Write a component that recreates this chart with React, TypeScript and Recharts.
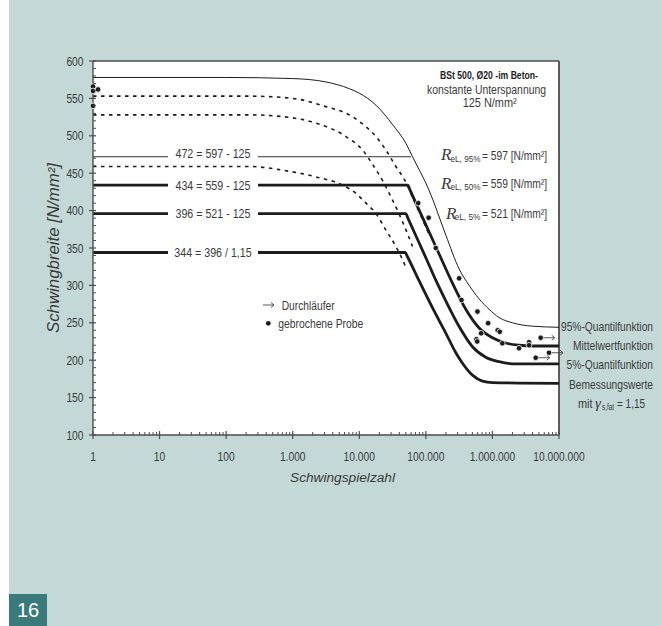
import React from 'react';
import { ComposedChart, Line, Scatter, XAxis, YAxis, CartesianGrid, ReferenceLine } from 'recharts';

const W = 662;
const H = 626;
const SANS = "'Liberation Sans', Arial, sans-serif";
const SERIF = "'Liberation Serif', 'Times New Roman', serif";
const TXT = '#3a3a3a';
const INK = '#1c1c1c';
const AXIS = '#4d4d4d';
const TEAL = '#c4d8d8';

// ---- tick labels ----
const xMajorTicks = [1, 10, 100, 1000, 10000, 100000, 1000000, 10000000];
const xTickLabels = ['1', '10', '100', '1.000', '10.000', '100.000', '1.000.000', '10.000.000'];
const yMajorTicks = [100, 150, 200, 250, 300, 350, 400, 450, 500, 550, 600];

const xMinorTicks: number[] = [];
for (let k = 0; k < 7; k++) for (let m = 2; m <= 9; m++) xMinorTicks.push(m * Math.pow(10, k));
const xAllTicks = [...xMajorTicks, ...xMinorTicks].sort((a, b) => a - b);
const yAllTicks: number[] = [];
for (let v = 100; v <= 600; v += 10) yAllTicks.push(v);

// ---- curves (n = Schwingspielzahl, v = Schwingbreite) ----
const q95Curve = [
  { n: 1, v: 578 }, { n: 100, v: 578 }, { n: 1000, v: 576.5 }, { n: 3160, v: 572 },
  { n: 7080, v: 563 }, { n: 10000, v: 557 }, { n: 17800, v: 541 }, { n: 31600, v: 515 },
  { n: 50100, v: 490 }, { n: 63100, v: 472 }, { n: 112000, v: 427 }, { n: 200000, v: 367 },
  { n: 316000, v: 322 }, { n: 447000, v: 300 }, { n: 631000, v: 282 }, { n: 891000, v: 268 },
  { n: 1260000, v: 257 }, { n: 2000000, v: 250 }, { n: 3980000, v: 245.5 }, { n: 10000000, v: 244 },
];
const meanCurve = [
  { n: 1, v: 434 }, { n: 53700, v: 434 }, { n: 57500, v: 428 }, { n: 100000, v: 381 },
  { n: 158000, v: 342 }, { n: 251000, v: 303 }, { n: 398000, v: 268 }, { n: 631000, v: 243 },
  { n: 1000000, v: 230 }, { n: 1580000, v: 223 }, { n: 2510000, v: 220 }, { n: 3980000, v: 219 },
  { n: 10000000, v: 219 },
];
const q5Curve = [
  { n: 1, v: 396 }, { n: 50100, v: 396 }, { n: 53700, v: 390 }, { n: 100000, v: 337 },
  { n: 141000, v: 307 }, { n: 200000, v: 279 }, { n: 316000, v: 245 }, { n: 501000, v: 218 },
  { n: 794000, v: 204 }, { n: 1260000, v: 198 }, { n: 2240000, v: 195 }, { n: 10000000, v: 195 },
];
const designCurve = [
  { n: 1, v: 344 }, { n: 49000, v: 344 }, { n: 52500, v: 339 }, { n: 79400, v: 306 },
  { n: 126000, v: 270 }, { n: 200000, v: 236 }, { n: 282000, v: 210 }, { n: 355000, v: 196 },
  { n: 501000, v: 180 }, { n: 708000, v: 172 }, { n: 1000000, v: 170 }, { n: 10000000, v: 169 },
];
const line472 = [{ n: 1, v: 472 }, { n: 60000, v: 472 }];

const dottedA = [
  { n: 1, v: 553 }, { n: 224, v: 553 }, { n: 1000, v: 550 }, { n: 3160, v: 539 },
  { n: 7080, v: 528 }, { n: 12600, v: 512 }, { n: 17800, v: 499 }, { n: 25100, v: 481 },
  { n: 35500, v: 459 }, { n: 47900, v: 441 }, { n: 63100, v: 418 }, { n: 89100, v: 388 },
  { n: 112000, v: 368 },
];
const dottedB = [
  { n: 1, v: 528 }, { n: 224, v: 528 }, { n: 708, v: 525.6 }, { n: 2240, v: 517 },
  { n: 6310, v: 499 }, { n: 11200, v: 481 }, { n: 15800, v: 462 }, { n: 22400, v: 440 },
  { n: 31600, v: 414 }, { n: 44700, v: 385 }, { n: 63100, v: 352 },
];
const dottedC = [
  { n: 1, v: 459 }, { n: 224, v: 459 }, { n: 708, v: 454 }, { n: 2240, v: 445 },
  { n: 5620, v: 434 }, { n: 8910, v: 423 }, { n: 12600, v: 410 }, { n: 17800, v: 396 },
  { n: 25100, v: 374 }, { n: 35500, v: 352 }, { n: 42700, v: 338 }, { n: 50100, v: 324 },
];

// ---- test results ----
const brokenSamples = [
  { n: 1, v: 566 }, { n: 1, v: 560 }, { n: 1.19, v: 562 }, { n: 1, v: 540 },
  { n: 76700, v: 410 }, { n: 110000, v: 390.5 }, { n: 141000, v: 350 },
  { n: 316000, v: 309.5 }, { n: 343000, v: 280.5 }, { n: 596000, v: 265 },
  { n: 861000, v: 249.5 }, { n: 1200000, v: 240 }, { n: 1290000, v: 238 },
  { n: 676000, v: 236 }, { n: 575000, v: 228 }, { n: 590000, v: 225 },
  { n: 1410000, v: 222.6 }, { n: 2510000, v: 216 }, { n: 3550000, v: 224 }, { n: 3550000, v: 220 },
];
const runOuts = [
  { n: 5310000, v: 230 }, { n: 4470000, v: 203.3 }, { n: 7080000, v: 210 },
];

// ---- Arial/Liberation advance widths (per 1000 em), used to emulate a narrow face ----
const CW: Record<string, number> = {
  ' ': 278, '.': 278, ',': 278, '-': 333, '=': 584, '/': 278, '%': 889, '[': 278, ']': 278, '²': 333, 'Ø': 778,
  '0': 556, '1': 556, '2': 556, '3': 556, '4': 556, '5': 556, '6': 556, '7': 556, '8': 556, '9': 556,
  a: 556, b: 556, c: 500, d: 556, e: 556, f: 278, g: 556, h: 556, i: 222, j: 222, k: 500, l: 222, m: 833,
  n: 556, o: 556, p: 556, q: 556, r: 333, s: 500, t: 278, u: 556, v: 500, w: 722, x: 500, y: 500, z: 500, 'ä': 556,
  A: 667, B: 667, C: 722, D: 722, E: 667, F: 611, G: 778, H: 722, I: 278, J: 500, K: 667, L: 556, M: 833,
  N: 722, O: 778, P: 667, Q: 778, R: 722, S: 667, T: 611, U: 722, V: 667, W: 944, X: 667, Y: 667, Z: 611,
};
const textWidth = (s: string, size: number) => {
  let w = 0;
  for (const ch of s) w += CW[ch] ?? 556;
  return (w / 1000) * size;
};

type NTProps = {
  x: number; y: number; size: number; text: string; anchor?: 'start' | 'middle' | 'end';
  bold?: boolean; italic?: boolean; fill?: string; factor?: number; len?: number;
};
const NText = ({ x, y, size, text, anchor = 'start', bold, italic, fill = TXT, factor = 0.82, len }: NTProps) => (
  <text
    x={x} y={y} fontFamily={SANS} fontSize={size} textAnchor={anchor}
    fontWeight={bold ? 'bold' : 'normal'} fontStyle={italic ? 'italic' : 'normal'} fill={fill}
    textLength={len ?? textWidth(text, size) * factor * (bold ? 1.06 : 1)} lengthAdjust="spacingAndGlyphs"
  >
    {text}
  </text>
);

const XTick = (props: any) => {
  const { x, y, payload } = props;
  const idx = xMajorTicks.indexOf(payload.value);
  if (idx >= 0) {
    return (
      <g>
        <line x1={x} x2={x} y1={y - 4} y2={y + 4} stroke={AXIS} strokeWidth={1.2} />
        <NText x={x} y={y + 26} size={12.5} anchor="middle" text={xTickLabels[idx]} />
      </g>
    );
  }
  return <line x1={x} x2={x} y1={y} y2={y - 3} stroke={AXIS} strokeWidth={1} />;
};

const YTick = (props: any) => {
  const { x, y, payload } = props;
  const v = payload.value;
  if (yMajorTicks.includes(v)) {
    return (
      <g>
        <line x1={x - 4} x2={x + 3} y1={y} y2={y} stroke={AXIS} strokeWidth={1.2} />
        <NText x={x - 9.5} y={y + 4.5} size={12.5} anchor="end" text={String(v)} />
      </g>
    );
  }
  return <line x1={x} x2={x + 3} y1={y} y2={y} stroke={AXIS} strokeWidth={1} />;
};

const BrokenDot = (props: any) => {
  const { cx, cy } = props;
  return <circle cx={cx} cy={cy} r={2.8} fill={INK} stroke="#fff" strokeWidth={0.8} />;
};
const RunOutDot = (props: any) => {
  const { cx, cy } = props;
  return (
    <g>
      <circle cx={cx} cy={cy} r={2.8} fill={INK} stroke="#fff" strokeWidth={0.8} />
      <line x1={cx + 3} x2={cx + 14} y1={cy} y2={cy} stroke="#444" strokeWidth={0.9} />
      <path d={`M${cx + 11},${cy - 2.5} L${cx + 14},${cy} L${cx + 11},${cy + 2.5}`} fill="none" stroke="#444" strokeWidth={0.9} />
    </g>
  );
};

const LineLabel = ({ x, y, text }: { x: number; y: number; text: string }) => (
  <g>
    <rect x={x - 45} y={y - 7} width={90} height={14} fill="#fff" />
    <NText x={x} y={y + 4.5} size={13} anchor="middle" text={text} />
  </g>
);

const RLabel = ({ y, sub, val, rx, subLen }: { y: number; sub: string; val: string; rx: number; subLen: number }) => (
  <g>
    <text x={rx} y={y + 5} fontFamily={SERIF} fontStyle="italic" fontSize={17} fill={TXT}>R</text>
    <NText x={480.5 - subLen} y={y + 6.5} size={9} text={sub} len={subLen} />
    <NText x={547} y={y + 4.7} size={13} anchor="end" text={`= ${val} [N/mm²]`} len={65} />
  </g>
);

export default function App() {
  const common = { isAnimationActive: false, dot: false, activeDot: false, legendType: 'none' as const };
  return (
    <div style={{ position: 'absolute', left: 0, top: 0, width: W, height: H, background: '#fff', overflow: 'hidden' }}>
      <div style={{ position: 'absolute', left: 9, top: 0, width: W - 9, height: H, background: TEAL }} />
      <div style={{ position: 'absolute', left: 0, top: 0 }}>
        <ComposedChart width={W} height={H} margin={{ top: 61, right: 103, bottom: 161, left: 53 }}>
          <CartesianGrid fill="#fff" horizontal={false} vertical={false} stroke="none" />
          <XAxis
            type="number" dataKey="n" scale="log" domain={[1, 10000000]} ticks={xAllTicks} interval={0}
            tick={XTick} tickLine={false} tickSize={0} tickMargin={0} height={30}
            axisLine={{ stroke: AXIS, strokeWidth: 1.6 }}
          />
          <YAxis
            type="number" domain={[100, 600]} ticks={yAllTicks} interval={0}
            tick={YTick} tickLine={false} tickSize={0} tickMargin={0} width={40}
            axisLine={{ stroke: AXIS, strokeWidth: 1.4 }}
          />
          <ReferenceLine y={600} stroke={AXIS} strokeWidth={1.4} />
          <ReferenceLine x={10000000} stroke={AXIS} strokeWidth={1.8} />

          <Line {...common} data={dottedA} dataKey="v" type="monotone" stroke={INK} strokeWidth={1.6} strokeDasharray="3.5 4.5" />
          <Line {...common} data={dottedB} dataKey="v" type="monotone" stroke={INK} strokeWidth={1.6} strokeDasharray="3.5 4.5" />
          <Line {...common} data={dottedC} dataKey="v" type="monotone" stroke={INK} strokeWidth={1.6} strokeDasharray="3.5 4.5" />

          <Line {...common} data={line472} dataKey="v" type="linear" stroke="#333" strokeWidth={1} />
          <Line {...common} data={q95Curve} dataKey="v" type="monotone" stroke={INK} strokeWidth={1} />
          <Line {...common} data={meanCurve} dataKey="v" type="monotone" stroke={INK} strokeWidth={2.8} />
          <Line {...common} data={q5Curve} dataKey="v" type="monotone" stroke={INK} strokeWidth={2.8} />
          <Line {...common} data={designCurve} dataKey="v" type="monotone" stroke={INK} strokeWidth={2.8} />

          <Scatter data={brokenSamples} dataKey="v" shape={BrokenDot} isAnimationActive={false} legendType="none" />
          <Scatter data={runOuts} dataKey="v" shape={RunOutDot} isAnimationActive={false} legendType="none" />
        </ComposedChart>
      </div>

      <svg width={W} height={H} style={{ position: 'absolute', left: 0, top: 0, pointerEvents: 'none' }}>
        {/* line labels */}
        <LineLabel x={213} y={153} text="472 = 597 - 125" />
        <LineLabel x={213} y={185} text="434 = 559 - 125" />
        <LineLabel x={213} y={213.5} text="396 = 521 - 125" />
        <LineLabel x={213} y={252} text="344 = 396 / 1,15" />

        {/* header */}
        <NText x={489} y={78.6} size={10.5} bold anchor="middle" fill="#222" text="BSt 500, Ø20  -im Beton-" len={98} />
        <NText x={486.5} y={94} size={12.6} anchor="middle" text="konstante Unterspannung" len={119} />
        <NText x={489.7} y={106.8} size={12.6} anchor="middle" text="125 N/mm²" len={54} />

        <RLabel y={155} sub="eL, 95%" val="597" rx={441} subLen={30} />
        <RLabel y={183.5} sub="eL, 50%" val="559" rx={441} subLen={30} />
        <RLabel y={213.5} sub="eL, 5%" val="521" rx={446} subLen={26} />

        {/* legend */}
        <line x1={263} x2={274} y1={305} y2={305} stroke="#444" strokeWidth={0.9} />
        <path d="M271,302.5 L274,305 L271,307.5" fill="none" stroke="#444" strokeWidth={0.9} />
        <NText x={281.7} y={309.5} size={12.5} text="Durchläufer" />
        <circle cx={268.3} cy={323.3} r={2.4} fill={INK} />
        <NText x={278.3} y={327.8} size={12.5} text="gebrochene Probe" len={85} />

        {/* right-side series names */}
        <NText x={653} y={331.2} size={12.8} anchor="end" text="95%-Quantilfunktion" len={92} />
        <NText x={653} y={349.5} size={12.8} anchor="end" text="Mittelwertfunktion" len={80} />
        <NText x={653} y={368.8} size={12.8} anchor="end" text="5%-Quantilfunktion" len={86.5} />
        <NText x={653} y={388.8} size={12.8} anchor="end" text="Bemessungswerte" len={84} />
        <NText x={578} y={407.8} size={12.8} text="mit" len={14.5} />
        <text x={595} y={407.8} fontFamily={SERIF} fontStyle="italic" fontSize={15} fill={TXT}>γ</text>
        <NText x={602} y={410} size={8.5} text="s,fat" len={12} />
        <NText x={617} y={407.8} size={12.8} text="= 1,15" len={28} />

        {/* axis titles */}
        <NText x={342.5} y={482} size={13.7} italic anchor="middle" text="Schwingspielzahl" len={105} />
        <g transform="translate(58.5,248) rotate(-90)">
          <NText x={0} y={0} size={16} italic anchor="middle" text="Schwingbreite [N/mm²]" len={170} />
        </g>
      </svg>

      <div
        style={{
          position: 'absolute', left: 9, top: 594, width: 38, height: 32, background: '#3a7a7a',
          color: '#fff', fontFamily: SANS, fontSize: 20, lineHeight: '32px', textAlign: 'center',
        }}
      >
        16
      </div>
    </div>
  );
}
